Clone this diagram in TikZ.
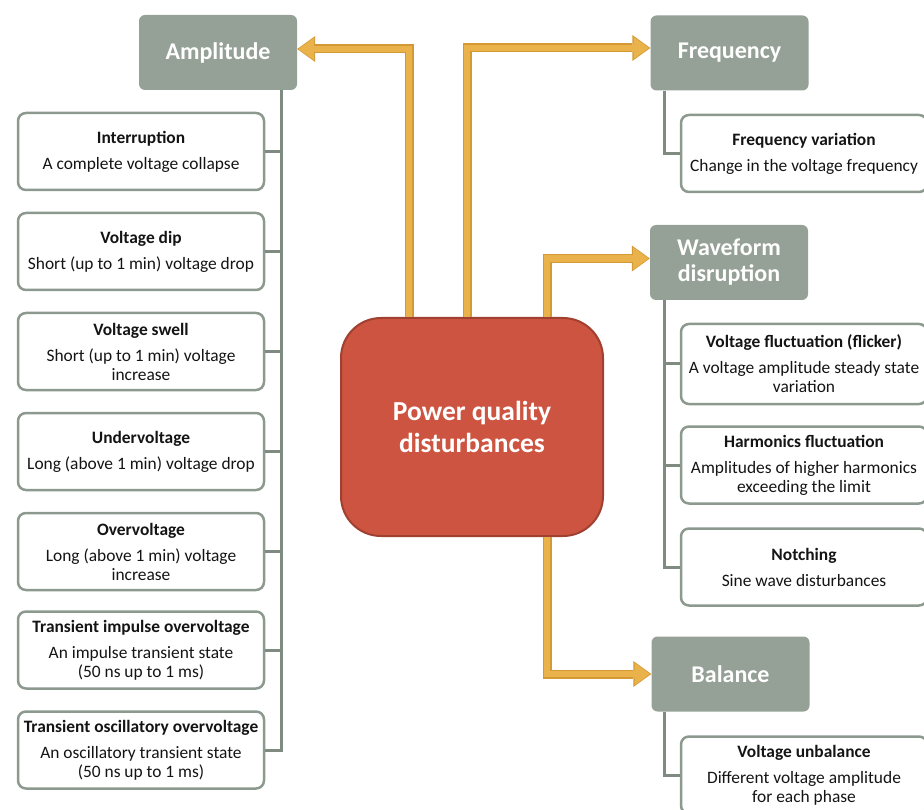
\documentclass[tikz,border=0pt]{standalone}
\usepackage{fontspec}
\setmainfont{Carlito}
\usetikzlibrary{arrows.meta}
\definecolor{headfill}{RGB}{149,160,150}
\definecolor{trunkc}{RGB}{127,139,129}
\definecolor{boxbord}{RGB}{140,153,142}
\definecolor{redfill}{RGB}{205,84,64}
\definecolor{redbord}{RGB}{160,64,48}
\definecolor{orng}{RGB}{233,178,74}
\definecolor{orngdark}{RGB}{212,152,52}
\definecolor{txt}{RGB}{20,20,20}
\begin{document}
\begin{tikzpicture}[x=1pt,y=-1pt,
 head/.style={fill=headfill, rounded corners=6pt, minimum width=158pt, minimum height=75pt, inner sep=0pt, text=white, font=\fontsize{24}{26}\selectfont\bfseries, align=center},
 sub/.style={draw=boxbord, line width=2.5pt, fill=white, rounded corners=8pt, minimum width=246pt, minimum height=77pt, inner sep=0pt, align=center, font=\fontsize{17.4}{19}\selectfont, text=txt},
 trunk/.style={draw=trunkc, line width=3pt},
 arrout/.style={draw=orngdark, line width=9pt, miter limit=10, -{Triangle[width=26pt,length=18pt,line width=0pt]}},
 arrin/.style={draw=orng, line width=6.6pt, miter limit=10, shorten >=1.3pt, -{Triangle[width=22.5pt,length=15.5pt,line width=0pt]}},
 center/.style={draw=redbord, line width=2pt, fill=redfill, rounded corners=40pt, minimum width=262pt, minimum height=218pt, inner sep=0pt, text=white, font=\fontsize{27.5}{32}\selectfont\bfseries, align=center},
]
\clip (0,0) rectangle (924,810);
% heading boxes
\node[head] (amp) at (218,52.5) {Amplitude};
\node[head] (freq) at (729.5,53) {Frequency};
\node[head] (wav) at (729,262.5) {Waveform\\disruption};
\node[head] (bal) at (730.5,674) {Balance};
% central
\node[center] (c) at (472,427) {Power quality\\disturbances};
% arrows
\foreach \s in {arrout,arrin}{
\draw[\s] ([xshift=-63pt]c.north) |- ([yshift=3.5pt]amp.east);
\draw[\s] ([xshift=-5pt]c.north) |- ([yshift=5pt]freq.west);
\draw[\s] ([xshift=75pt]c.north) |- ([yshift=4pt]wav.west);
\draw[\s] ([xshift=75pt]c.south) |- ([yshift=0pt]bal.west);
}
% left sub boxes
\node[sub] (a1) at (141,151.5) {\textbf{Interruption}\\[7pt]A complete voltage collapse};
\node[sub] (a2) at (141,251.5) {\textbf{Voltage dip}\\[7pt]Short (up to 1 min) voltage drop};
\node[sub] (a3) at (141,351.5) {\textbf{Voltage swell}\\[7pt]Short (up to 1 min) voltage\\increase};
\node[sub] (a4) at (141,451.5) {\textbf{Undervoltage}\\[7pt]Long (above 1 min) voltage drop};
\node[sub] (a5) at (141,551.5) {\textbf{Overvoltage}\\[7pt]Long (above 1 min) voltage\\increase};
\node[sub] (a6) at (141,650) {\textbf{Transient impulse overvoltage}\\[7pt]An impulse transient state\\(50 ns up to 1 ms)};
\node[sub] (a7) at (141,750) {\textbf{Transient oscillatory overvoltage}\\[7pt]An oscillatory transient state\\(50 ns up to 1 ms)};
\coordinate (lt) at (281,0);
\draw[trunk] (lt |- amp.south) -- (lt |- a7.east) -- (a7.east);
\foreach \b in {a1,a2,a3,a4,a5,a6} \draw[trunk] (\b.east) -- (lt |- \b.east);
% right sub boxes
\node[sub] (f1) at (804,153.5) {\textbf{Frequency variation}\\[7pt]Change in the voltage frequency};
\node[sub, minimum height=80pt] (w1) at (804,364) {\textbf{Voltage fluctuation (flicker)}\\[7pt]A voltage amplitude steady state\\variation};
\node[sub] (w2) at (804,465) {\textbf{Harmonics fluctuation}\\[7pt]Amplitudes of higher harmonics\\exceeding the limit};
\node[sub] (w3) at (804,567) {\textbf{Notching}\\[7pt]Sine wave disturbances};
\node[sub] (b1) at (804,775) {\textbf{Voltage unbalance}\\[7pt]Different voltage amplitude\\for each phase};
\coordinate (rt) at (664,0);
\draw[trunk] (rt |- freq.south) -- (rt |- f1.west) -- (f1.west);
\draw[trunk] (rt |- wav.south) -- (rt |- w3.west) -- (w3.west);
\draw[trunk] (w1.west) -- (rt |- w1.west);
\draw[trunk] (w2.west) -- (rt |- w2.west);
\draw[trunk] (rt |- bal.south) -- (rt |- b1.west) -- (b1.west);
\end{tikzpicture}
\end{document}
